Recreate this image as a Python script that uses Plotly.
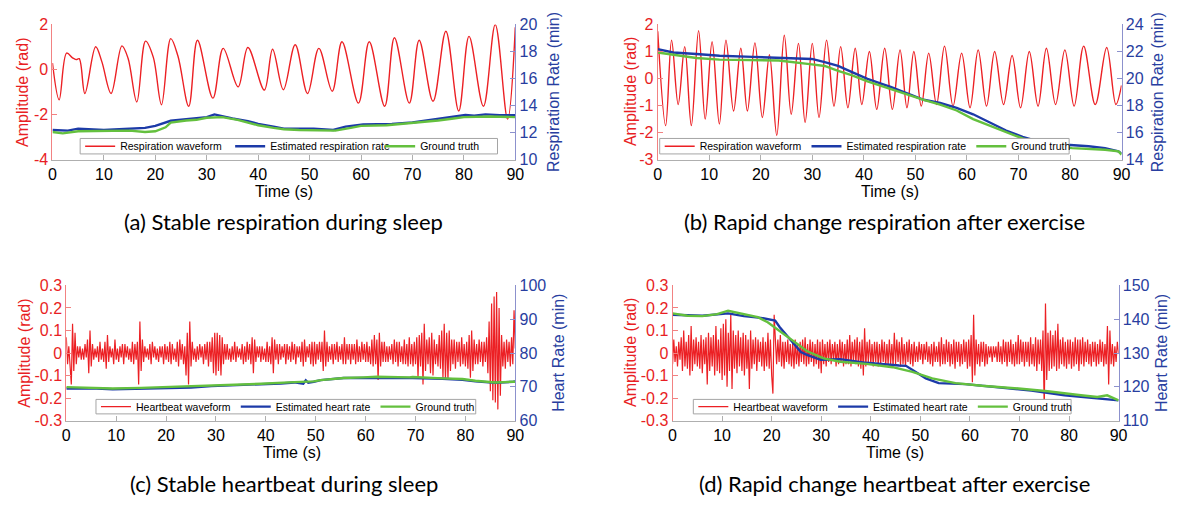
import plotly.graph_objects as go

# ---------------- data ----------------
time_ticks = [0, 10, 20, 30, 40, 50, 60, 70, 80, 90]

# (a) respiration waveform extrema (time s, amplitude rad)
resp_a_t = [0, 1.3, 2.75, 3.9, 4.6, 5.2, 6.3, 8.4, 9.6, 11.4, 13.5, 14.7, 16.4, 18.1, 19.6,
            21.2, 23.0, 24.4, 26.5, 28.2, 31.2, 33.2, 36.1, 38.0, 41.2, 42.8, 44.9, 47.2,
            49.6, 51.8, 54.4, 56.3, 59.5, 61.6, 64.6, 66.5, 69.4, 71.3, 74.0, 76.5, 79.0,
            81.0, 83.8, 86.1, 88.5, 90.0]
resp_a_v = [0.29, -1.34, 0.73, 0.52, 0.44, 0.48, -1.06, 1.01, 0.35, -1.06, 1.05, 0.5, -1.44,
            1.26, 0.55, -1.56, 1.37, 0.6, -1.63, 1.3, -1.27, 0.94, -0.77, 0.98, -0.91, 0.9,
            -0.9, 1.1, -1.06, 0.94, -0.96, 1.23, -1.49, 1.23, -1.63, 1.41, -1.49, 1.3, -1.41,
            1.7, -1.84, 1.47, -1.63, 1.99, -2.2, 1.87]
est_a_t = [0, 3, 5, 8, 10, 13, 15, 18, 20, 23, 26, 28, 30, 31.5, 33, 35, 38, 40, 43, 45, 48,
           50.8, 54.6, 57, 60.4, 63, 66, 70, 72, 75.2, 78, 80.3, 82, 84.2, 87, 90]
est_a_v = [12.2, 12.15, 12.3, 12.25, 12.2, 12.25, 12.3, 12.35, 12.5, 12.88, 13.0, 13.05, 13.15,
           13.35, 13.2, 13.05, 12.85, 12.65, 12.45, 12.3, 12.3, 12.3, 12.2, 12.45, 12.6, 12.6,
           12.65, 12.75, 12.85, 13.0, 13.15, 13.3, 13.25, 13.35, 13.3, 13.3]
gt_a_t = [0, 2, 5, 8, 10, 13, 15, 18, 20, 22, 23, 26, 28, 30, 33, 36, 40, 43, 45, 48, 50, 52,
          55, 58, 60, 65, 70, 75, 78, 80, 85, 88, 90]
gt_a_v = [12.05, 11.95, 12.1, 12.1, 12.15, 12.1, 12.15, 12.05, 12.1, 12.4, 12.75, 12.9, 12.95,
          13.1, 13.15, 12.95, 12.55, 12.35, 12.25, 12.2, 12.2, 12.15, 12.15, 12.35, 12.5, 12.55,
          12.7, 12.9, 13.05, 13.15, 13.2, 13.2, 13.15]

# (b) respiration waveform extrema
resp_b_t = [0, 1.54, 2.69, 3.97, 5.24, 6.52, 7.93, 9.21, 10.55, 11.96, 13.24, 14.72, 16.12,
            17.4, 18.86, 20.3, 21.68, 23.1, 24.56, 25.9, 27.31, 28.6, 29.99, 31.3, 32.76, 34.2,
            35.5, 36.9, 38.32, 39.6, 41.07, 42.5, 44.04, 45.53, 47.02, 48.36, 49.7, 51.14,
            52.58, 54.1, 55.65, 57.3, 58.97, 60.6, 62.18, 63.8, 65.38, 67.1, 68.76, 70.4, 72.1,
            73.8, 75.42, 77.2, 79.0, 80.8, 82.65, 84.9, 87.12, 88.9, 90.0]
resp_b_v = [1.75, -1.74, 1.42, -0.96, 1.18, -1.74, 1.77, -1.5, 1.36, -1.68, 1.42, -1.2, 1.12,
            -1.2, 1.32, -1.44, 0.88, -2.1, 1.6, -1.32, 1.3, -1.62, 1.3, -1.44, 1.42, -1.02,
            1.18, -1.08, 1.12, -0.96, 1.0, -1.14, 1.12, -1.14, 1.06, -1.08, 1.0, -1.02, 0.94,
            -0.96, 1.2, -1.02, 0.94, -1.08, 1.06, -1.02, 1.0, -0.96, 0.85, -1.08, 1.0, -1.02,
            1.12, -0.96, 1.06, -1.02, 1.2, -0.96, 1.15, -0.96, -0.25]
est_b_t = [0, 3, 7.5, 12, 18.4, 23.5, 29.9, 32.4, 35, 37.6, 40.7, 43.9, 45.2, 48.4, 51.6,
           54.8, 58.0, 61.2, 64.4, 67.6, 70.8, 74.0, 77.2, 80.4, 83.6, 86.8, 89.4, 90]
est_b_v = [22.17, 21.93, 21.81, 21.69, 21.6, 21.52, 21.45, 21.21, 20.93, 20.5, 19.98, 19.55,
           19.38, 18.9, 18.43, 18.19, 17.83, 17.36, 16.76, 16.16, 15.69, 15.34, 15.16, 15.09,
           15.0, 14.86, 14.62, 14.45]
gt_b_t = [0, 3, 7.5, 12, 18.4, 23.5, 29.9, 32.4, 35, 37.6, 40.7, 43.9, 45.2, 48.4, 51.6,
          54.8, 58.0, 61.2, 64.4, 67.6, 70.8, 74.0, 77.2, 80.4, 83.6, 86.8, 89.4, 90]
gt_b_v = [21.93, 21.76, 21.52, 21.4, 21.36, 21.33, 21.05, 20.93, 20.57, 20.26, 19.79, 19.38,
          19.27, 18.83, 18.43, 18.07, 17.64, 17.0, 16.52, 16.05, 15.57, 15.26, 15.02, 14.86,
          14.81, 14.74, 14.62, 14.38]

# (c) heartbeat waveform, one sample every 0.25 s
hb_dt = 0.25
hb_c = [
    0.07, -0.05, 0.03, -0.06, -0.14, 0.13, -0.08, 0.09, -0.05, 0.03, -0.02, 0.03, -0.03, 0.02, -0.03, 0.04, -0.02, 0.06, -0.09, 0.10,
    -0.06, 0.04, -0.03, 0.02, -0.02, 0.03, -0.04, 0.05, -0.03, 0.02, -0.04, 0.05, -0.07, 0.08, -0.04, 0.03, -0.02, 0.02, -0.05, 0.06,
    -0.03, 0.02, -0.04, 0.03, -0.02, 0.04, -0.05, 0.04, -0.02, 0.03, -0.03, 0.02, -0.04, 0.05, -0.05, 0.04, -0.03, 0.05, -0.14, 0.14,
    -0.08, 0.06, -0.04, 0.03, -0.02, 0.02, -0.03, 0.04, -0.05, 0.05, -0.02, 0.03, -0.03, 0.02, -0.04, 0.03, -0.02, 0.03, -0.05, 0.04,
    -0.03, 0.03, -0.04, 0.05, -0.05, 0.04, -0.03, 0.02, -0.04, 0.05, -0.06, 0.06, -0.03, 0.04, -0.05, 0.03, -0.10, 0.09, -0.14, 0.14,
    -0.06, 0.05, -0.03, 0.02, -0.04, 0.03, -0.03, 0.04, -0.02, 0.03, -0.05, 0.04, -0.03, 0.05, -0.06, 0.05, -0.04, 0.07, -0.09, 0.09,
    -0.10, 0.09, -0.08, 0.08, -0.10, 0.07, -0.05, 0.04, -0.03, 0.04, -0.03, 0.02, -0.04, 0.03, -0.03, 0.05, -0.04, 0.03, -0.02, 0.02,
    -0.03, 0.04, -0.05, 0.03, -0.04, 0.05, -0.03, 0.04, -0.05, 0.07, -0.09, 0.06, -0.04, 0.03, -0.02, 0.03, -0.04, 0.03, -0.03, 0.02,
    -0.04, 0.05, -0.04, 0.03, -0.05, 0.07, -0.09, 0.06, -0.03, 0.04, -0.05, 0.04, -0.03, 0.03, -0.02, 0.04, -0.05, 0.04, -0.03, 0.03,
    -0.04, 0.05, -0.03, 0.04, -0.05, 0.03, -0.02, 0.03, -0.04, 0.05, -0.06, 0.06, -0.04, 0.03, -0.02, 0.04, -0.05, 0.05, -0.06, 0.05,
    -0.05, 0.04, -0.03, 0.05, -0.04, 0.05, -0.08, 0.10, -0.06, 0.05, -0.04, 0.03, -0.03, 0.04, -0.05, 0.04, -0.03, 0.05, -0.04, 0.03,
    -0.03, 0.04, -0.05, 0.07, -0.05, 0.04, -0.03, 0.04, -0.05, 0.04, -0.03, 0.04, -0.05, 0.06, -0.04, 0.03, -0.04, 0.05, -0.03, 0.04,
    -0.04, 0.05, -0.04, 0.03, -0.05, 0.06, -0.06, 0.08, -0.05, 0.06, -0.12, 0.09, -0.06, 0.05, -0.04, 0.05, -0.04, 0.03, -0.04, 0.03,
    -0.03, 0.04, -0.05, 0.06, -0.04, 0.05, -0.06, 0.05, -0.04, 0.03, -0.05, 0.06, -0.05, 0.04, -0.06, 0.07, -0.05, 0.04, -0.06, 0.05,
    -0.05, 0.07, -0.11, 0.08, -0.06, 0.09, -0.14, 0.13, -0.08, 0.06, -0.05, 0.07, -0.09, 0.09, -0.10, 0.06, -0.05, 0.04, -0.06, 0.08,
    -0.07, 0.10, -0.11, 0.13, -0.12, 0.09, -0.12, 0.10, -0.08, 0.06, -0.05, 0.06, -0.07, 0.05, -0.04, 0.05, -0.06, 0.07, -0.05, 0.04,
    -0.06, 0.05, -0.07, 0.08, -0.11, 0.10, -0.08, 0.06, -0.05, 0.04, -0.05, 0.06, -0.04, 0.05, -0.06, 0.05, -0.04, 0.07, -0.09, 0.14,
    -0.17, 0.22, -0.21, 0.25, -0.22, 0.27, -0.25, 0.20, -0.19, 0.08, -0.06, 0.05, -0.07, 0.06, -0.04, 0.05, -0.06, 0.07, -0.05, 0.19,
    0.02,
]
est_c_t = [0, 5, 9.3, 15, 19.2, 25, 29.1, 35, 39.1, 43, 45.7, 47.5, 48, 48.5, 49.6, 51, 55.6,
           59.5, 62.2, 66, 69.4, 75.4, 79.4, 82, 86, 89.6, 90]
est_c_v = [69.5, 69.6, 69.3, 69.5, 69.7, 69.8, 70.2, 70.5, 70.8, 71.0, 71.3, 70.9, 71.9, 71.2,
           71.5, 72.0, 72.6, 72.6, 72.8, 72.6, 72.6, 72.4, 72.1, 71.6, 71.2, 71.5, 71.6]
gt_c_t = [0, 5, 9.3, 15, 19.2, 25, 29.1, 35, 39.1, 45.7, 49.6, 51, 55.6, 59.5, 62.2, 68.8,
          69.4, 75.4, 79.4, 82, 86, 89.3, 90]
gt_c_v = [69.9, 69.7, 69.5, 69.7, 69.9, 70.1, 70.4, 70.7, 70.9, 71.4, 71.6, 72.0, 72.6, 72.8,
          73.0, 72.8, 72.9, 72.5, 72.3, 71.8, 71.3, 71.5, 71.5]

# (d) heartbeat waveform, one sample every 0.25 s
hb_d = [
    -0.05, 0.06, -0.04, 0.03, -0.06, 0.05, -0.03, 0.07, -0.08, 0.10, -0.06, 0.05, -0.07, 0.08, -0.10, 0.12, -0.08, 0.06, -0.05, 0.07,
    -0.06, 0.05, -0.07, 0.08, -0.09, 0.06, -0.05, 0.07, -0.14, 0.09, -0.08, 0.07, -0.06, 0.08, -0.10, 0.12, -0.08, 0.06, -0.09, 0.11,
    -0.12, 0.13, -0.10, 0.15, -0.15, 0.09, -0.08, 0.17, -0.16, 0.10, -0.07, 0.08, -0.09, 0.10, -0.06, 0.07, -0.08, 0.09, -0.10, 0.08,
    -0.07, 0.06, -0.16, 0.10, -0.07, 0.06, -0.05, 0.07, -0.08, 0.06, -0.04, 0.05, -0.06, 0.07, -0.08, 0.05, -0.06, 0.09, -0.07, 0.06,
    -0.10, -0.18, 0.17, 0.06, -0.05, 0.06, -0.04, 0.08, -0.06, 0.05, -0.07, 0.05, -0.04, 0.06, -0.05, 0.04, -0.06, 0.05, -0.07, 0.06,
    -0.05, 0.04, -0.06, 0.05, -0.04, 0.06, -0.05, 0.07, -0.06, 0.04, -0.05, 0.06, -0.04, 0.05, -0.06, 0.04, -0.05, 0.06, -0.07, 0.05,
    -0.09, 0.06, -0.05, 0.04, -0.06, 0.05, -0.04, 0.06, -0.05, 0.04, -0.03, 0.05, -0.06, 0.04, -0.05, 0.06, -0.04, 0.05, -0.06, 0.04,
    -0.05, 0.06, -0.05, 0.08, -0.06, 0.05, -0.04, 0.06, -0.05, 0.07, -0.06, 0.05, -0.07, 0.06, -0.10, 0.11, -0.06, 0.05, -0.04, 0.06,
    -0.05, 0.04, -0.06, 0.05, -0.04, 0.05, -0.06, 0.04, -0.05, 0.06, -0.04, 0.05, -0.06, 0.04, -0.05, 0.06, -0.05, 0.04, -0.06, 0.09,
    -0.05, 0.06, -0.04, 0.05, -0.06, 0.07, -0.05, 0.04, -0.06, 0.05, -0.04, 0.06, -0.05, 0.04, -0.06, 0.05, -0.04, 0.03, -0.04, 0.05,
    -0.03, 0.04, -0.05, 0.04, -0.03, 0.05, -0.04, 0.03, -0.05, 0.04, -0.06, 0.05, -0.04, 0.03, -0.04, 0.05, -0.06, 0.07, -0.05, 0.04,
    -0.05, 0.06, -0.04, 0.05, -0.06, 0.04, -0.05, 0.06, -0.07, 0.05, -0.04, 0.05, -0.06, 0.04, -0.05, 0.06, -0.04, 0.05, -0.07, 0.06,
    -0.06, 0.08, -0.13, 0.17, -0.10, 0.06, -0.05, 0.04, -0.06, 0.05, -0.04, 0.05, -0.06, 0.04, -0.05, 0.03, -0.02, 0.03, -0.04, 0.03,
    -0.02, 0.03, -0.04, 0.05, -0.04, 0.03, -0.05, 0.06, -0.04, 0.05, -0.06, 0.05, -0.04, 0.06, -0.05, 0.04, -0.06, 0.05, -0.05, 0.08,
    -0.05, 0.06, -0.04, 0.05, -0.06, 0.05, -0.04, 0.05, -0.06, 0.07, -0.05, 0.04, -0.06, 0.07, -0.08, 0.06, -0.05, 0.06, -0.08, 0.10,
    -0.26, 0.22, -0.12, 0.09, -0.08, 0.10, -0.07, 0.08, -0.06, 0.10, -0.08, 0.13, -0.07, 0.06, -0.05, 0.07, -0.06, 0.05, -0.07, 0.06,
    -0.05, 0.06, -0.07, 0.05, -0.06, 0.07, -0.05, 0.06, -0.08, 0.06, -0.05, 0.07, -0.06, 0.05, -0.04, 0.06, -0.05, 0.04, -0.06, 0.05,
    -0.04, 0.05, -0.06, 0.04, -0.05, 0.06, -0.04, 0.05, -0.06, 0.04, -0.05, 0.12, -0.14, 0.10, -0.05, 0.04, -0.06, 0.03, -0.04, 0.05,
    0.0,
]
est_d_t = [0, 6, 11.2, 14.4, 17.8, 20.7, 21.6, 24.5, 25.9, 27, 29.9, 33.8, 39.1, 45.7, 47.1,
           51.1, 53.7, 59.1, 65.7, 72.4, 79.1, 85.7, 90]
est_d_v = [141.3, 141.0, 141.7, 140.9, 140.4, 139.6, 137.7, 132.9, 130.3, 129.5, 128.0, 128.2,
           127.1, 126.3, 126.2, 122.5, 121.1, 120.8, 119.8, 118.9, 117.5, 116.6, 116.0]
gt_d_t = [0, 3, 6, 9, 11.2, 13.8, 17.2, 19.2, 21.8, 24.5, 27.1, 30.5, 33.8, 39.1, 44.4, 48.4,
          52.4, 57.1, 62.4, 69.0, 75.7, 82.4, 85.7, 87.7, 90]
gt_d_v = [141.7, 141.0, 140.9, 141.5, 142.5, 141.7, 140.6, 139.1, 136.3, 133.4, 130.6, 128.4,
          127.4, 126.8, 125.8, 124.4, 122.5, 121.1, 120.3, 119.6, 118.7, 117.5, 117.0, 117.5,
          116.0]

hb_c_t = [i * hb_dt for i in range(len(hb_c))]
hb_d_t = [i * hb_dt for i in range(len(hb_d))]

# tick labels
amp_a_vals, amp_a_text = [-4, -2, 0, 2], ["-4", "-2", "0", "2"]
amp_b_vals, amp_b_text = [-3, -2, -1, 0, 1, 2], ["-3", "-2", "-1", "0", "1", "2"]
rr_a_vals = [10, 12, 14, 16, 18, 20]
rr_b_vals = [14, 16, 18, 20, 22, 24]
amp_h_vals = [-0.3, -0.2, -0.1, 0, 0.1, 0.2, 0.3]
amp_h_text = ["-0.3", "-0.2", "-0.1", "0", "0.1", "0.2", "0.3"]
hr_c_vals = [60, 70, 80, 90, 100]
hr_d_vals = [110, 120, 130, 140, 150]

# ---------------- style ----------------
W, H = 1180, 506
RED = "rgb(236,32,36)"
BLUE = "rgb(28,58,168)"
GREEN = "rgb(100,192,62)"
RED_TXT = "rgb(232,30,36)"
BLUE_TXT = "rgb(40,62,160)"
RED_AX = "rgb(242,130,130)"
BLUE_AX = "rgb(140,145,205)"
X_AX = "rgb(175,175,175)"
FONT = "Liberation Sans, Arial, Helvetica, sans-serif"
CAP_FONT = "Lato, Noto Sans, sans-serif"
TICK_SIZE = 16
TITLE_SIZE = 16
LEG_SIZE = 10.5


def px_x(p):
    return p / W


def px_y(p):
    return 1 - p / H


panels = {
    "a": dict(x=(49, 517), y=(17, 157)),
    "b": dict(x=(661, 1130), y=(17, 157)),
    "c": dict(x=(63, 517), y=(287, 427)),
    "d": dict(x=(676, 1127), y=(287, 427)),
}


def xdom(k):
    a, b = panels[k]["x"]
    return [px_x(a), px_x(b)]


def ydom(k):
    a, b = panels[k]["y"]
    return [px_y(b), px_y(a)]


fig = go.Figure()

# panel a
fig.add_trace(go.Scatter(x=resp_a_t, y=resp_a_v, mode="lines", line=dict(color=RED, width=1.4, shape="spline", smoothing=1.0),
                         name="Respiration waveform", xaxis="x", yaxis="y", legend="legend"))
fig.add_trace(go.Scatter(x=est_a_t, y=est_a_v, mode="lines", line=dict(color=BLUE, width=2.4),
                         name="Estimated respiration rate", xaxis="x", yaxis="y2", legend="legend"))
fig.add_trace(go.Scatter(x=gt_a_t, y=gt_a_v, mode="lines", line=dict(color=GREEN, width=2.4),
                         name="Ground truth", xaxis="x", yaxis="y2", legend="legend"))
# panel b
fig.add_trace(go.Scatter(x=resp_b_t, y=resp_b_v, mode="lines", line=dict(color=RED, width=1.4, shape="spline", smoothing=1.0),
                         name="Respiration waveform", xaxis="x2", yaxis="y3", legend="legend2"))
fig.add_trace(go.Scatter(x=est_b_t, y=est_b_v, mode="lines", line=dict(color=BLUE, width=2.4),
                         name="Estimated respiration rate", xaxis="x2", yaxis="y4", legend="legend2"))
fig.add_trace(go.Scatter(x=gt_b_t, y=gt_b_v, mode="lines", line=dict(color=GREEN, width=2.4),
                         name="Ground truth", xaxis="x2", yaxis="y4", legend="legend2"))
# panel c
fig.add_trace(go.Scatter(x=hb_c_t, y=hb_c, mode="lines", line=dict(color=RED, width=1.2),
                         name="Heartbeat waveform", xaxis="x3", yaxis="y5", legend="legend3"))
fig.add_trace(go.Scatter(x=est_c_t, y=est_c_v, mode="lines", line=dict(color=BLUE, width=2.4),
                         name="Estimated heart rate", xaxis="x3", yaxis="y6", legend="legend3"))
fig.add_trace(go.Scatter(x=gt_c_t, y=gt_c_v, mode="lines", line=dict(color=GREEN, width=2.4),
                         name="Ground truth", xaxis="x3", yaxis="y6", legend="legend3"))
# panel d
fig.add_trace(go.Scatter(x=hb_d_t, y=hb_d, mode="lines", line=dict(color=RED, width=1.2),
                         name="Heartbeat waveform", xaxis="x4", yaxis="y7", legend="legend4"))
fig.add_trace(go.Scatter(x=est_d_t, y=est_d_v, mode="lines", line=dict(color=BLUE, width=2.4),
                         name="Estimated heart rate", xaxis="x4", yaxis="y8", legend="legend4"))
fig.add_trace(go.Scatter(x=gt_d_t, y=gt_d_v, mode="lines", line=dict(color=GREEN, width=2.4),
                         name="Ground truth", xaxis="x4", yaxis="y8", legend="legend4"))


def xaxis(k, anchor):
    return dict(domain=xdom(k), anchor=anchor, range=[0, 90], tickvals=time_ticks,
                ticks="inside", ticklen=5, tickcolor=X_AX, showline=True, linecolor=X_AX,
                linewidth=1, showgrid=False, zeroline=False,
                tickfont=dict(family=FONT, size=TICK_SIZE, color="black"))


def yleft(k, anchor, rng, vals, text):
    return dict(domain=ydom(k), anchor=anchor, range=rng, tickvals=vals, ticktext=text,
                ticks="inside", ticklen=5, tickcolor=RED_AX, showline=True, linecolor=RED_AX,
                linewidth=1, showgrid=False, zeroline=False,
                tickfont=dict(family=FONT, size=TICK_SIZE, color=RED_TXT))


def yright(over, anchor, rng, vals):
    return dict(overlaying=over, side="right", anchor=anchor, range=rng, tickvals=vals,
                ticks="inside", ticklen=5, tickcolor=BLUE_AX, showline=True, linecolor=BLUE_AX,
                linewidth=1, showgrid=False, zeroline=False,
                tickfont=dict(family=FONT, size=TICK_SIZE, color=BLUE_TXT))


def legend(left_px, mid_px, entrywidth=0):
    d = dict(x=px_x(left_px), y=px_y(mid_px), xanchor="left", yanchor="middle",
             orientation="h", bgcolor="rgba(0,0,0,0)", borderwidth=0,
             font=dict(family=FONT, size=LEG_SIZE, color="black"), itemwidth=30,
             itemclick=False)
    if entrywidth:
        d["entrywidth"] = entrywidth
        d["entrywidthmode"] = "pixels"
    return d


# legend frames (MATLAB style box: 16 px tall) as layout decoration
shapes = []


def frame(x0, x1, y0, y1):
    shapes.append(dict(type="rect", xref="paper", yref="paper",
                       x0=px_x(x0), x1=px_x(x1), y0=px_y(y1), y1=px_y(y0),
                       line=dict(color="rgb(165,165,165)", width=1),
                       fillcolor="white", layer="above"))


frame(77, 499, 135, 151)
frame(663, 1077, 135, 151)
frame(93, 477, 405, 420)
frame(697, 1079, 405, 420)

annotations = []


def ann(text, xp, yp, color, size=TITLE_SIZE, angle=0, family=FONT):
    annotations.append(dict(text=text, x=px_x(xp), y=px_y(yp), xref="paper", yref="paper",
                            showarrow=False, textangle=angle, xanchor="center", yanchor="middle",
                            font=dict(family=family, size=size, color=color)))


ann("Amplitude (rad)", 18, 87, RED_TXT, angle=-90)
ann("Respiration Rate (min)", 555, 87, BLUE_TXT, angle=-90)
ann("Amplitude (rad)", 633, 87, RED_TXT, angle=-90)
ann("Respiration Rate (min)", 1166, 87, BLUE_TXT, angle=-90)
ann("Amplitude (rad)", 20, 357, RED_TXT, angle=-90)
ann("Heart Rate (min)", 560, 357, BLUE_TXT, angle=-90)
ann("Amplitude (rad)", 633, 357, RED_TXT, angle=-90)
ann("Heart Rate (min)", 1170, 357, BLUE_TXT, angle=-90)
ann("Time (s)", 283, 190, "black")
ann("Time (s)", 896, 190, "black")
ann("Time (s)", 291, 460, "black")
ann("Time (s)", 901, 460, "black")
ann("(a) Stable respiration during sleep", 283, 221, "black", size=22, family=CAP_FONT)
ann("(b) Rapid change respiration after exercise", 890, 221, "black", size=22, family=CAP_FONT)
ann("(c) Stable heartbeat during sleep", 283, 492, "black", size=22, family=CAP_FONT)
ann("(d) Rapid change heartbeat after exercise", 900, 492, "black", size=22, family=CAP_FONT)

fig.update_layout(
    width=W, height=H, autosize=False,
    margin=dict(l=0, r=0, t=0, b=0),
    paper_bgcolor="white", plot_bgcolor="rgba(0,0,0,0)",
    showlegend=True,
    xaxis=xaxis("a", "y"),
    xaxis2=xaxis("b", "y3"),
    xaxis3=xaxis("c", "y5"),
    xaxis4=xaxis("d", "y7"),
    yaxis=yleft("a", "x", [-4, 2], amp_a_vals, amp_a_text),
    yaxis2=yright("y", "x", [10, 20], rr_a_vals),
    yaxis3=yleft("b", "x2", [-3, 2], amp_b_vals, amp_b_text),
    yaxis4=yright("y3", "x2", [14, 24], rr_b_vals),
    yaxis5=yleft("c", "x3", [-0.3, 0.3], amp_h_vals, amp_h_text),
    yaxis6=yright("y5", "x3", [60, 100], hr_c_vals),
    yaxis7=yleft("d", "x4", [-0.3, 0.3], amp_h_vals, amp_h_text),
    yaxis8=yright("y7", "x4", [110, 150], hr_d_vals),
    legend=legend(77, 143, entrywidth=105),
    legend2=legend(663, 143),
    legend3=legend(93, 412.5),
    legend4=legend(697, 412.5),
    shapes=shapes,
    annotations=annotations,
)

fig.write_html("out.html")
